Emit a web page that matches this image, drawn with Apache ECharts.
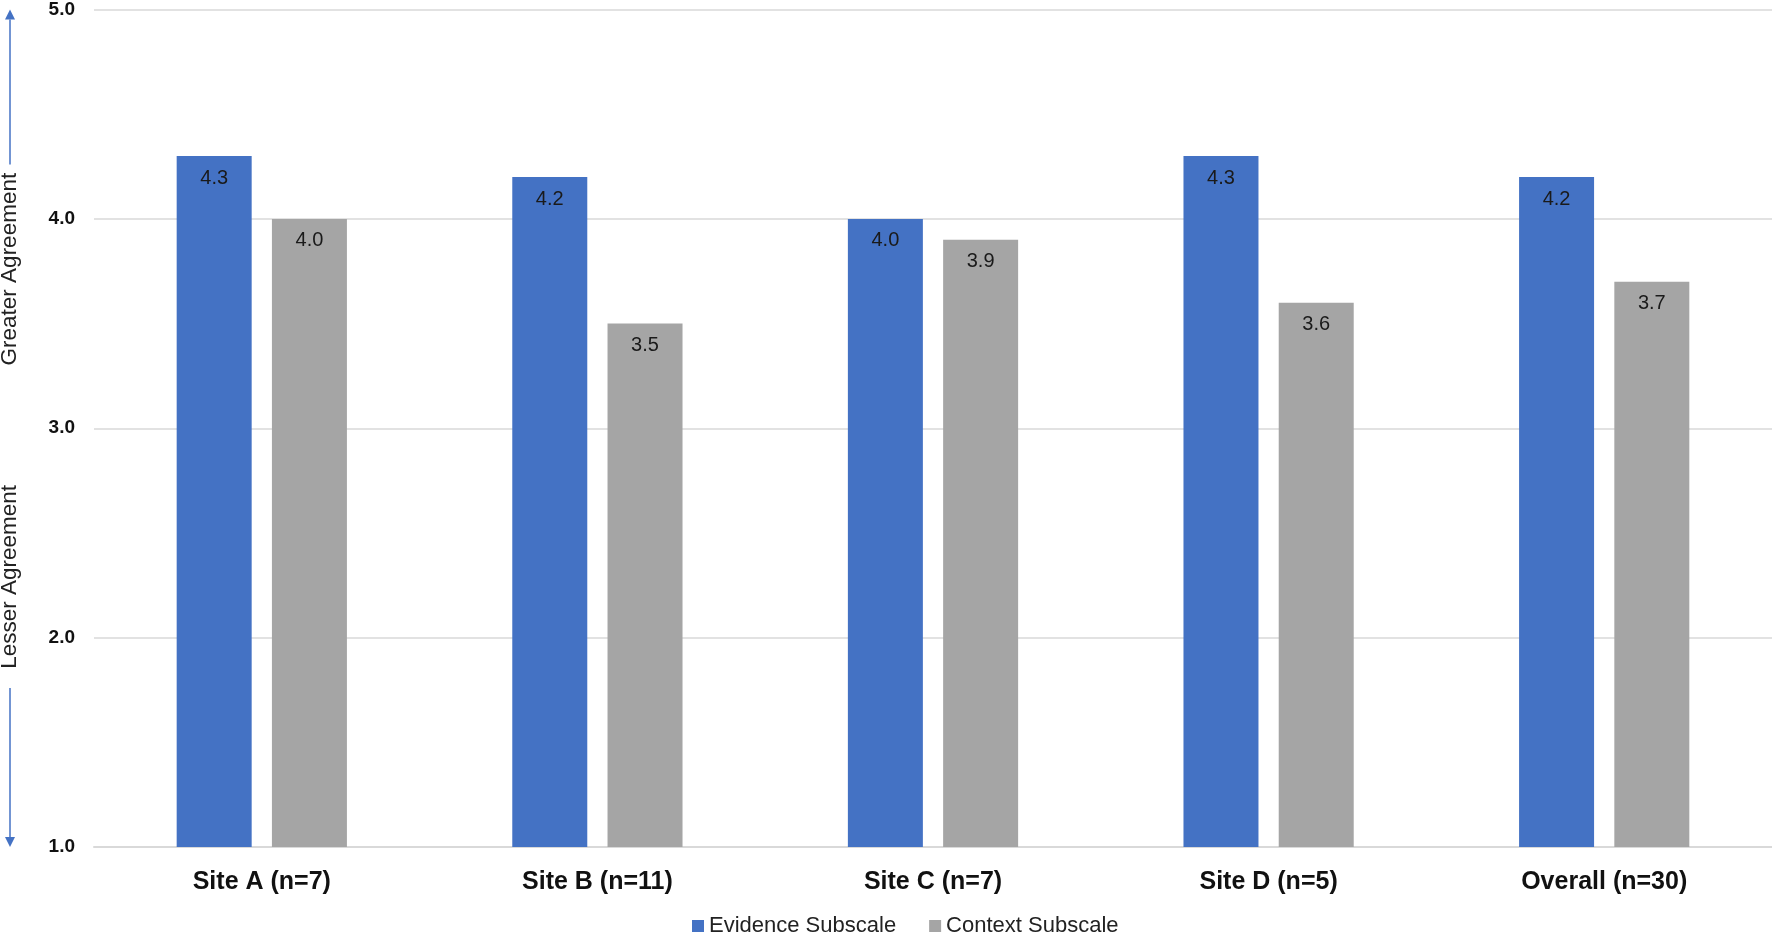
<!DOCTYPE html>
<html>
<head>
<meta charset="utf-8">
<script src="https://cdn.jsdelivr.net/npm/echarts@6/dist/echarts.min.js"></script>
<style>
  html, body { margin: 0; padding: 0; background: #fff; }
  #main { width: 1772px; height: 934px; }
</style>
</head>
<body>
<div id="main"></div>
<script>
let chartDom = document.getElementById('main');
let myChart = echarts.init(chartDom);

// data
let categories = ['Site A (n=7)', 'Site B (n=11)', 'Site C (n=7)', 'Site D (n=5)', 'Overall (n=30)'];
let evidence = [4.3, 4.2, 4.0, 4.3, 4.2];
let context = [4.0, 3.5, 3.9, 3.6, 3.7];
let seriesNames = ['Evidence Subscale', 'Context Subscale'];

// side notes on the value axis (in axis units)
let upNote = { text: 'Greater Agreement', at: 3.76, from: 4.26, to: 5.0 };
let downNote = { text: 'Lesser Agreement', at: 2.29, from: 1.76, to: 1.0 };

let font = '"Liberation Sans", Arial, sans-serif';

let labelStyle = {
    show: true,
    position: 'insideTop',
    distance: 12,
    fontSize: 20,
    fontFamily: font,
    color: '#1a1a1a',
    formatter: p => p.value.toFixed(1)
};

option = {
    animation: false,
    grid: { left: 94, right: 0, top: 9, bottom: 87 },
    legend: {
        data: seriesNames,
        left: 687,
        top: 910,
        icon: 'rect',
        itemWidth: 12,
        itemHeight: 12,
        itemGap: 33,
        textStyle: { fontSize: 22, fontFamily: font, color: '#222' }
    },
    xAxis: {
        type: 'category',
        data: categories,
        axisTick: { show: false },
        axisLine: { lineStyle: { color: '#d9d9d9', width: 2 } },
        axisLabel: {
            margin: 23,
            fontSize: 25,
            fontWeight: 'bold',
            fontFamily: font,
            color: '#111'
        }
    },
    yAxis: {
        type: 'value',
        min: 1,
        max: 5,
        interval: 1,
        axisLine: { show: false },
        axisTick: { show: false },
        splitLine: { lineStyle: { color: '#d9d9d9', width: 1.5 } },
        axisLabel: {
            margin: 19,
            fontSize: 19,
            fontWeight: 'bold',
            fontFamily: font,
            color: '#111',
            formatter: v => v.toFixed(1)
        }
    },
    series: [
        {
            name: seriesNames[0],
            type: 'bar',
            data: evidence,
            barWidth: 75,
            barGap: '27%',
            itemStyle: { color: '#4472C4' },
            label: labelStyle
        },
        {
            name: seriesNames[1],
            type: 'bar',
            data: context,
            barWidth: 75,
            itemStyle: { color: '#A5A5A5' },
            label: labelStyle
        }
    ]
};

option && myChart.setOption(option);

// arrows and rotated notes beside the value axis
function noteGraphic(note, up) {
    let yText = myChart.convertToPixel({ yAxisIndex: 0 }, note.at);
    let yFrom = myChart.convertToPixel({ yAxisIndex: 0 }, note.from);
    let yTo = myChart.convertToPixel({ yAxisIndex: 0 }, note.to);
    let x = 10;
    let head = up ? 10 : -10;
    return [
        {
            type: 'text',
            x: x,
            y: yText,
            rotation: Math.PI / 2,
            style: {
                text: note.text,
                fontSize: 22.5,
                fontFamily: font,
                fill: '#222',
                align: 'center',
                verticalAlign: 'middle'
            }
        },
        {
            type: 'line',
            shape: { x1: x, y1: yFrom, x2: x, y2: yTo + head },
            style: { stroke: '#4472C4', lineWidth: 1.5 }
        },
        {
            type: 'polygon',
            shape: { points: [[x, yTo], [x - 5, yTo + head], [x + 5, yTo + head]] },
            style: { fill: '#4472C4' }
        }
    ];
}

myChart.setOption({
    graphic: noteGraphic(upNote, true).concat(noteGraphic(downNote, false))
});
</script>
</body>
</html>
